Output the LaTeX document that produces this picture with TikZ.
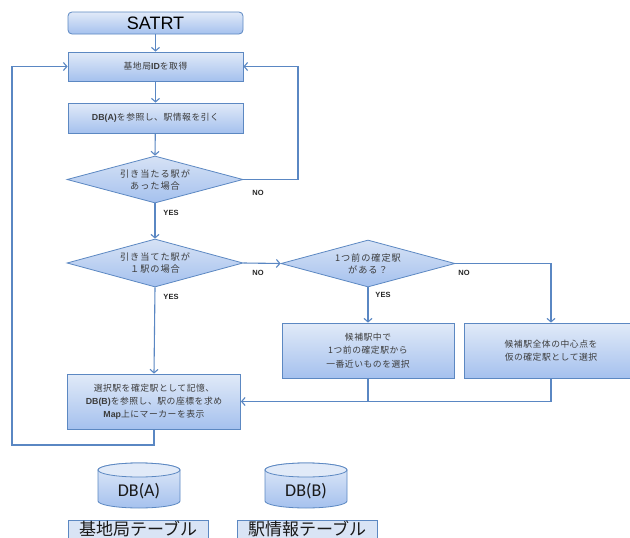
\documentclass[tikz,border=0pt]{standalone}
\usepackage{fontspec}
\setmainfont{Noto Sans CJK JP}
\newfontfamily\latf{Liberation Sans}
\newfontfamily\carlf{Carlito}
\usetikzlibrary{shapes.geometric,arrows.meta}
\definecolor{bordc}{HTML}{5C88C2}
\definecolor{linec}{HTML}{5A87C3}
\definecolor{topc}{HTML}{E1EAF8}
\definecolor{botc}{HTML}{A5C1EE}
\definecolor{dtopc}{HTML}{D6E2F5}
\definecolor{txtc}{HTML}{3C3C3C}
\definecolor{lblfill}{HTML}{D9E4F5}
\newcommand{\lb}[1]{{\latf\bfseries #1}}
\tikzset{
  jpf/.style={font=\fontsize{8.8}{13.2}\selectfont\addfontfeature{LetterSpace=6}},
  boxst/.style={draw=bordc, line width=0.8pt, top color=topc, bottom color=botc,
    inner sep=0pt, align=center, text=txtc, jpf},
  diast/.style={diamond, aspect=3.7, draw=bordc, line width=0.8pt, top color=dtopc,
    bottom color=botc, inner sep=0pt, align=center, text=txtc,
    font=\fontsize{9.2}{12}\selectfont\addfontfeature{LetterSpace=10}},
  conn/.style={draw=linec, line width=1.1pt},
  arr/.style={conn, -{Straight Barb[length=3.5pt,width=8pt]}},
  yn/.style={font=\latf\bfseries\fontsize{7.5}{9}\selectfont, text=black!85},
  cylst/.style={draw=bordc, line width=0.8pt, top color=topc, bottom color=botc},
  capst/.style={draw=bordc, line width=0.8pt, fill=topc},
  tblst/.style={draw=bordc, line width=0.8pt, fill=lblfill, inner sep=0pt,
    font=\fontsize{17}{20}\selectfont, text=black!90}
}
\begin{document}
\begin{tikzpicture}[x=1pt,y=-1pt]
\clip (0,0) rectangle (630,538);
\fill[white] (0,0) rectangle (630,538);

% nodes
\node[boxst, rounded corners=4pt, minimum width=175pt, minimum height=22pt,
      font=\latf\fontsize{18}{20}\selectfont, text=black] (start) at (155.5,23) {SATRT};
\node[boxst, minimum width=175pt, minimum height=29pt] (b2) at (155.5,66.5) {基地局\lb{ID}を取得};
\node[boxst, minimum width=175pt, minimum height=30pt] (b3) at (155.5,118) {\lb{DB(A)}を参照し、駅情報を引く};
\node[diast, minimum width=176pt, minimum height=47pt] (d1) at (155,179.5) {引き当たる駅が\\あった場合};
\node[diast, minimum width=176pt, minimum height=48pt] (d2) at (155,263) {引き当てた駅が\\１駅の場合};
\node[diast, minimum width=174pt, minimum height=47pt] (d3) at (368,263.5) {1つ前の確定駅\\がある？};
\node[boxst, minimum width=172pt, minimum height=55pt] (b4) at (368,350.5) {候補駅中で\\1つ前の確定駅から\\一番近いものを選択};
\node[boxst, minimum width=174pt, minimum height=55pt] (b5) at (551,350.5) {候補駅全体の中心点を\\仮の確定駅として選択};
\node[boxst, minimum width=173pt, minimum height=55pt] (b6) at (154,401.5) {選択駅を確定駅として記憶、\\\lb{DB(B)}を参照し、駅の座標を求め\\\lb{Map}上にマーカーを表示};

% labels
\node[yn] (no1) at (258,193) {NO};
\node[yn] (yes1) at (171,213) {YES};
\node[yn] (no2) at (258,273) {NO};
\node[yn] (yes2) at (171,297) {YES};
\node[yn] (no3) at (464,273) {NO};
\node[yn] (yes3) at (383,295) {YES};

% connectors
\coordinate (rl) at (298,0);
\coordinate (ll) at (12,445);
\draw[arr] (start) -- (b2);
\draw[arr] (b2) -- (b3);
\draw[arr] (b3) -- (d1.north);
\draw[arr] (d1.south) -- (d2.north);
\draw[arr] (d1.east) -- (d1.east -| rl) |- (b2.east);
\draw[arr] (d2.east) -- (d3.west);
\draw[arr] (d2.south) -- (b6.north);
\draw[arr] (d3.south) -- (b4.north);
\draw[arr] (d3.east) -| (b5.north);
\draw[conn] (b5.south) |- (b6.east);
\draw[arr] (b4.south) |- (b6.east);
\draw[arr] (b6.south) |- (ll) |- (b2.west);

% cylinders
\path[cylst] (98,470) -- (98,501) arc[start angle=180,end angle=360,x radius=41pt,y radius=7pt]
  -- (180,470) arc[start angle=0,end angle=180,x radius=41pt,y radius=7pt] -- cycle;
\draw[capst] (139,470) ellipse[x radius=41pt, y radius=7pt];
\node[font=\carlf\fontsize{18}{20}\selectfont, text=black!90] (dba) at (139,491) {DB(A)};
\path[cylst] (265,470) -- (265,501) arc[start angle=180,end angle=360,x radius=41pt,y radius=7pt]
  -- (347,470) arc[start angle=0,end angle=180,x radius=41pt,y radius=7pt] -- cycle;
\draw[capst] (306,470) ellipse[x radius=41pt, y radius=7pt];
\node[font=\carlf\fontsize{18}{20}\selectfont, text=black!90] (dbb) at (306,491) {DB(B)};

% table labels
\node[tblst, minimum width=140pt, minimum height=28pt] (ta) at (138,534) {};
\node[font=\fontsize{17}{20}\selectfont, text=black!90] (tat) at (138,529) {基地局テーブル};
\node[tblst, minimum width=140pt, minimum height=28pt] (tb) at (307,534) {};
\node[font=\fontsize{17}{20}\selectfont, text=black!90] (tbt) at (307,529) {駅情報テーブル};
\end{tikzpicture}
\end{document}
